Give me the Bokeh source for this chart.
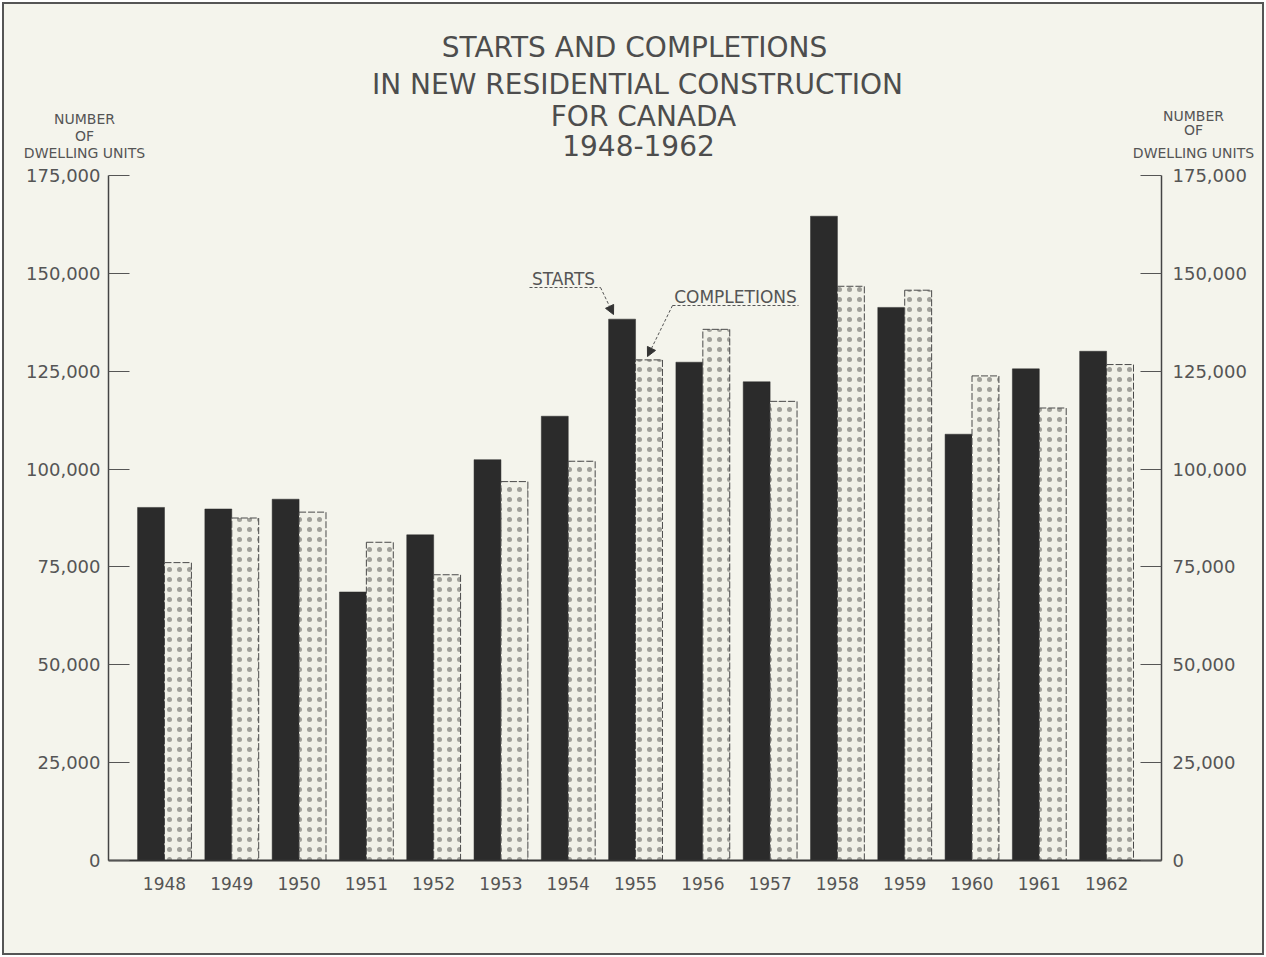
from bokeh.plotting import figure
from bokeh.layouts import column
from bokeh.models import (Range1d, LinearAxis, FixedTicker, NumeralTickFormatter,
                          Label, Arrow, NormalHead)
from bokeh.embed import file_html
from bokeh.resources import INLINE

# ---------------- data ----------------
years = ["1948", "1949", "1950", "1951", "1952", "1953", "1954", "1955",
         "1956", "1957", "1958", "1959", "1960", "1961", "1962"]
starts = [90200, 89800, 92300, 68600, 83200, 102400, 113500, 138300,
          127300, 122300, 164600, 141300, 108900, 125600, 130100]
completions = [76100, 87500, 89000, 81300, 73000, 96800, 102000, 127900,
               135700, 117300, 146700, 145700, 123800, 115600, 126700]
y_ticks = [0, 25000, 50000, 75000, 100000, 125000, 150000, 175000]
title_lines = ["STARTS AND COMPLETIONS", "IN NEW RESIDENTIAL CONSTRUCTION",
               "FOR CANADA", "1948-1962"]
axis_title_lines = ["NUMBER", "OF", "DWELLING UNITS"]

# ---------------- styling ----------------
BG = "#f4f4ec"
INK = "#2b2b2b"
TXT = "#555555"
FONT = "DejaVu Sans"

OFF = 4                      # page offset of the layout box (margin)
W, H = 1258, 949             # whole layout box
HH = 160                     # header height
X0, X1 = -0.832, 14.816
Y0, Y1 = 0, 175000
# page-pixel frame of the chart
FL, FR, FT, FB = 108, 1161, 175, 860


def px(x):
    return X0 + (x - FL) / (FR - FL) * (X1 - X0)


def py(y):
    return Y0 + (FB - y) / (FB - FT) * (Y1 - Y0)


# ---------------- header (title + axis titles) ----------------
head = figure(width=W, height=HH, output_backend="svg", toolbar_location=None,
              x_range=Range1d(OFF, OFF + W), y_range=Range1d(OFF + HH, OFF),
              x_axis_location=None, y_axis_location=None,
              min_border_left=0, min_border_right=0, min_border_top=0,
              min_border_bottom=0, background_fill_color=BG,
              border_fill_color=BG, outline_line_color=None, title=None)
head.frame_align = False
head.grid.grid_line_color = None

title_pos = [(634, 47), (637, 84), (643, 116), (638, 145)]
for txt, (x, y) in zip(title_lines, title_pos):
    head.add_layout(Label(x=x, y=y, text=txt, text_align="center",
                          text_baseline="middle", text_font=FONT,
                          text_font_size="28px", text_color="#4d4d4d"))

left_pos = [(84, 118), (84, 135), (84, 152)]
right_pos = [(1193, 115), (1193, 129), (1193, 152)]
for pos in (left_pos, right_pos):
    for txt, (x, y) in zip(axis_title_lines, pos):
        head.add_layout(Label(x=x, y=y, text=txt, text_align="center",
                              text_baseline="middle", text_font=FONT,
                              text_font_size="14px", text_color=TXT))

# ---------------- main chart ----------------
top_page = OFF + HH
MH = H - HH
p = figure(width=W, height=MH, output_backend="svg", toolbar_location=None,
           x_range=Range1d(X0, X1), y_range=Range1d(Y0, Y1),
           min_border_left=FL - OFF, min_border_right=(OFF + W) - FR,
           min_border_top=FT - top_page, min_border_bottom=(top_page + MH) - FB,
           background_fill_color=BG, border_fill_color=BG,
           outline_line_color=None, title=None)
p.frame_align = False
p.grid.grid_line_color = None

idx = list(range(len(years)))
p.vbar(x=[i - 0.2 for i in idx], top=starts, width=0.40, bottom=0,
       fill_color=INK, line_color=INK, line_width=0.5)
p.vbar(x=[i + 0.2 for i in idx], top=completions, width=0.40, bottom=0,
       fill_color="#f1f1e8", line_color="#4a4a4a", line_width=1,
       line_dash="7 2", hatch_pattern="dot", hatch_color="#a0a09a",
       hatch_scale=10, hatch_weight=0.8)

fmt = NumeralTickFormatter(format="0,0")
ax_l = p.yaxis[0]
ax_l.ticker = FixedTicker(ticks=y_ticks)
ax_l.formatter = fmt

ax_r = LinearAxis(ticker=FixedTicker(ticks=y_ticks), formatter=fmt)
p.add_layout(ax_r, "right")

for ax, standoff in ((ax_l, 8), (ax_r, 11)):
    ax.major_tick_in = 21
    ax.major_tick_out = 0
    ax.minor_tick_line_color = None
    ax.major_tick_line_color = "#555555"
    ax.major_tick_line_width = 1.2
    ax.axis_line_color = "#444444"
    ax.axis_line_width = 1.5
    ax.major_label_standoff = standoff
    ax.major_label_text_font = FONT
    ax.major_label_text_font_size = "18px"
    ax.major_label_text_color = TXT

ax_b = p.xaxis[0]
ax_b.ticker = FixedTicker(ticks=idx)
ax_b.major_label_overrides = {i: years[i] for i in idx}
ax_b.major_tick_line_color = None
ax_b.minor_tick_line_color = None
ax_b.axis_line_color = "#333333"
ax_b.axis_line_width = 2
ax_b.major_label_standoff = 10
ax_b.major_label_text_font = FONT
ax_b.major_label_text_font_size = "17px"
ax_b.major_label_text_color = TXT

# ---------------- annotations ----------------
p.add_layout(Label(x=px(563), y=py(278), text="STARTS", text_align="center",
                   text_baseline="middle", text_font=FONT,
                   text_font_size="17px", text_color=TXT))
p.add_layout(Label(x=px(735), y=py(296), text="COMPLETIONS", text_align="center",
                   text_baseline="middle", text_font=FONT,
                   text_font_size="17px", text_color=TXT))

LC = "#555555"
p.add_layout(Arrow(end=None, x_start=px(529), y_start=py(287), x_end=px(600),
                   y_end=py(287), line_color=LC, line_width=1, line_dash="3 2"))
p.add_layout(Arrow(end=NormalHead(size=9, fill_color="#333333", line_color="#333333"),
                   x_start=px(600), y_start=py(287), x_end=px(613), y_end=py(314),
                   line_color=LC, line_width=1, line_dash="3 2"))
p.add_layout(Arrow(end=None, x_start=px(672), y_start=py(305), x_end=px(798),
                   y_end=py(305), line_color=LC, line_width=1, line_dash="3 2"))
p.add_layout(Arrow(end=NormalHead(size=9, fill_color="#333333", line_color="#333333"),
                   x_start=px(672), y_start=py(305), x_end=px(647), y_end=py(356),
                   line_color=LC, line_width=1, line_dash="3 2"))

layout = column(head, p, spacing=0, margin=(OFF, OFF, OFF, OFF),
                styles={"outline": "2px solid #555555", "background-color": BG})

open("out.html", "w").write(file_html(layout, INLINE))
